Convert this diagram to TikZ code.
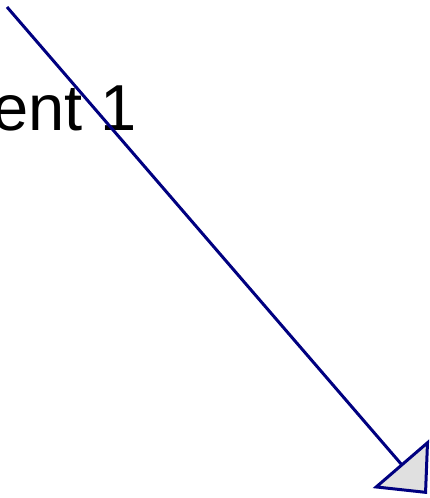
\documentclass[tikz,border=0pt]{standalone}
\usepackage{fontspec}
\setmainfont{Liberation Sans}
\usetikzlibrary{arrows.meta}

\definecolor{linknavy}{RGB}{0,0,128}

\begin{document}
\begin{tikzpicture}[x=1pt, y=-1pt, >={Triangle[length=40pt, width=74pt, fill=black!12]}, link/.style={draw=linknavy, line width=3pt}]

    \useasboundingbox (0,0) rectangle (430,498);

    \node[anchor=base east, inner sep=0pt, font=\fontsize{65}{78}\selectfont] (C1) at (137,130) {Component 1};

    \coordinate (src) at (7,7);
    \coordinate (dst) at (427,494);

    \draw[->, link] (src) -- (dst);

\end{tikzpicture}
\end{document}
